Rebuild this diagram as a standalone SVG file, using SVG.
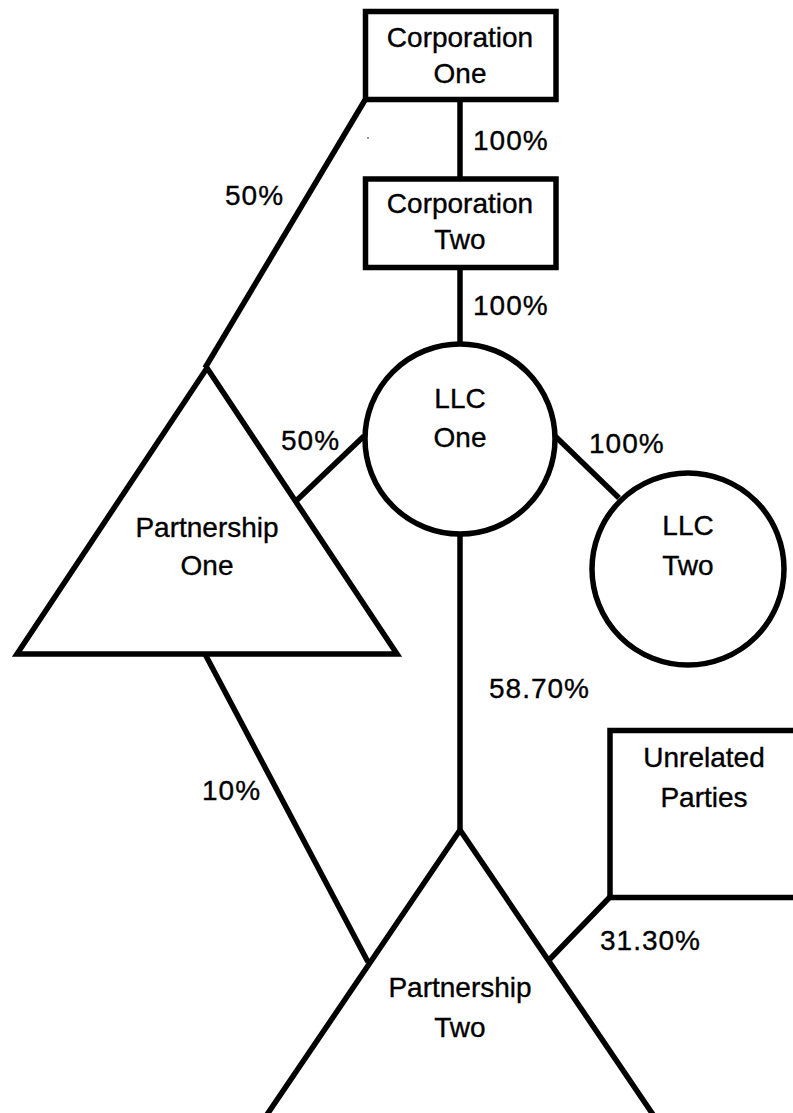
<svg xmlns="http://www.w3.org/2000/svg" width="793" height="1113" viewBox="0 0 793 1113">
<style>
.shape{fill:#fff;stroke:#000;stroke-width:5.5;stroke-linejoin:miter}
.line{fill:none;stroke:#000;stroke-width:5.5}
text{font-family:"Liberation Sans",Arial,sans-serif;font-size:28px;fill:#000;stroke:#000;stroke-width:0.35}
.c{text-anchor:middle}
.p{letter-spacing:1px}
</style>
<rect width="793" height="1113" fill="#fff"/>
<g id="connectors">
<line class="line" x1="460" y1="100" x2="460" y2="179"/>
<line class="line" x1="460" y1="267" x2="460" y2="345"/>
<line class="line" x1="365" y1="100" x2="205" y2="368"/>
<line class="line" x1="364" y1="436" x2="296" y2="501"/>
<line class="line" x1="555" y1="436" x2="619" y2="498"/>
<line class="line" x1="460" y1="533" x2="460" y2="830"/>
<line class="line" x1="205" y1="654" x2="368" y2="962"/>
<line class="line" x1="610" y1="897" x2="549" y2="960"/>
<text class="p" x="473" y="150">100%</text>
<text class="p" x="473" y="315">100%</text>
<text class="p" x="225" y="205">50%</text>
<text class="p" x="281" y="450">50%</text>
<text class="p" x="589" y="453">100%</text>
<text class="p" x="489" y="698">58.70%</text>
<text class="p" x="202" y="800">10%</text>
<text class="p" x="600" y="950">31.30%</text>
<circle cx="368" cy="138" r="1" fill="#777"/>
</g>
<g id="corporation-one">
<rect class="shape" x="365.5" y="11.5" width="190.5" height="88"/>
<text class="c" x="460" y="47">Corporation</text>
<text class="c" x="460" y="83">One</text>
</g>
<g id="corporation-two">
<rect class="shape" x="365.5" y="179" width="190.5" height="88.5"/>
<text class="c" x="460" y="213">Corporation</text>
<text class="c" x="460" y="249">Two</text>
</g>
<g id="llc-one">
<circle class="shape" cx="460" cy="439" r="95"/>
<text class="c" x="460" y="408">LLC</text>
<text class="c" x="460" y="447">One</text>
</g>
<g id="llc-two">
<circle class="shape" cx="688" cy="569" r="96"/>
<text class="c" x="688" y="535">LLC</text>
<text class="c" x="688" y="575">Two</text>
</g>
<g id="partnership-one">
<polygon class="shape" points="207,368 17,654 397,654"/>
<text class="c" x="207" y="537">Partnership</text>
<text class="c" x="207" y="575">One</text>
</g>
<g id="unrelated-parties">
<rect class="shape" x="610" y="730.5" width="200" height="167"/>
<text class="c" x="704" y="767">Unrelated</text>
<text class="c" x="704" y="807">Parties</text>
</g>
<g id="partnership-two">
<polygon class="shape" points="460,830 205,1206 715,1206"/>
<text class="c" x="460" y="997">Partnership</text>
<text class="c" x="460" y="1037">Two</text>
</g>
</svg>
